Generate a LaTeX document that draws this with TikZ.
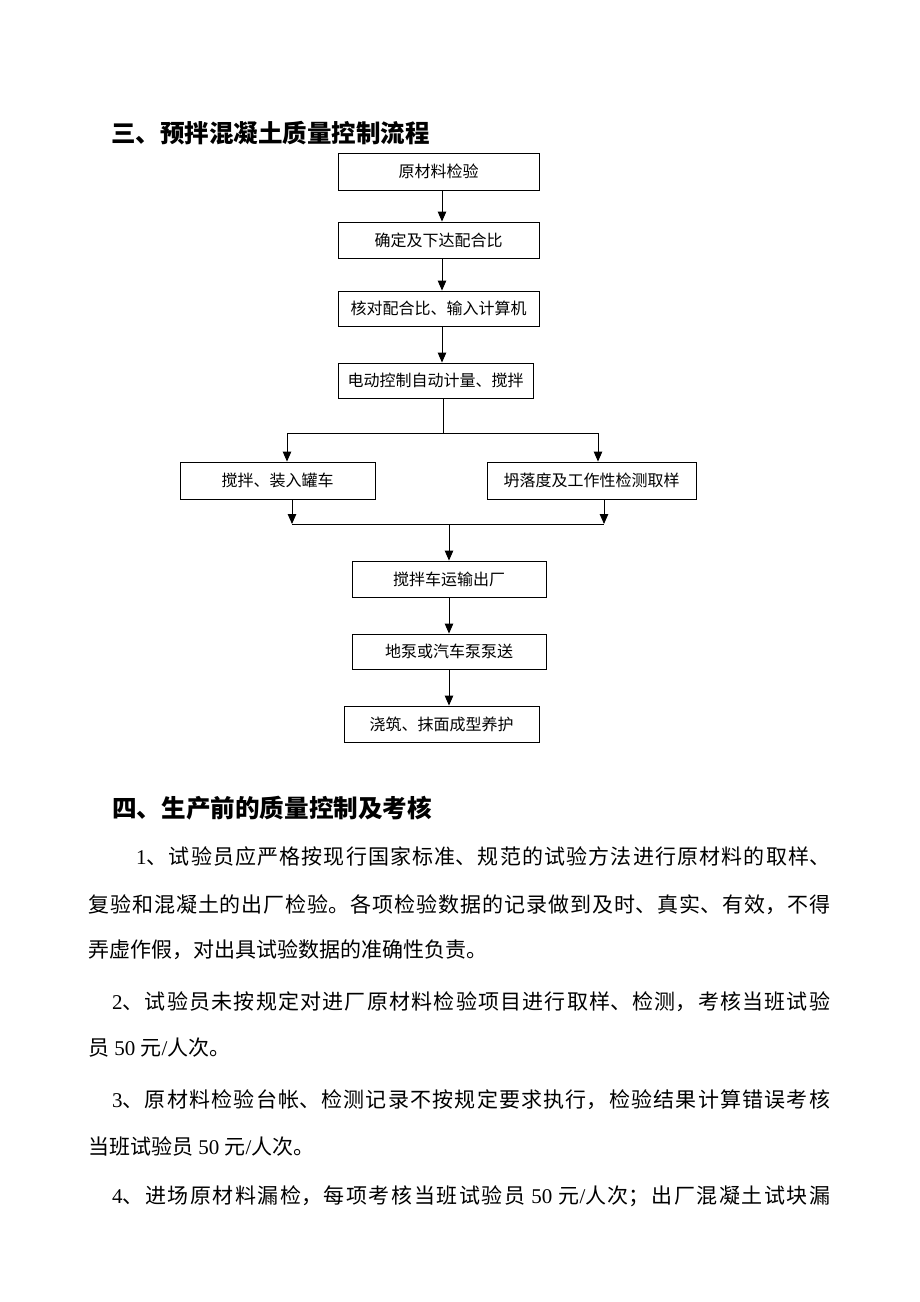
\documentclass[tikz,border=0pt]{standalone}
\usepackage{fontspec}
\setmainfont{Liberation Serif}
\newfontfamily\cjk{Noto Sans CJK SC}
\usetikzlibrary{arrows.meta}
\XeTeXlinebreaklocale "zh"
\XeTeXlinebreakskip=0pt plus 4pt minus 0.3pt
\newcommand\jline[2]{\parbox{#1}{\tolerance=9000\parfillskip=0pt\relax\cjk #2\par}}
\newcommand\dg[1]{{\rmfamily #1}}
\begin{document}
\begin{tikzpicture}[x=1pt,y=-1pt,
  box/.style={draw=black,line width=0.9pt,rectangle,inner sep=0pt,font=\cjk\fontsize{16}{18}\selectfont},
  arr/.style={draw=black,line width=1pt,-{Triangle[length=10pt,width=8.5pt]}},
  ln/.style={draw=black,line width=1pt},
  body/.style={anchor=west,inner sep=0pt,font=\fontsize{21}{24}\selectfont},
  ttl/.style={anchor=west,inner sep=0pt,font=\cjk\bfseries\fontsize{24.5}{28}\selectfont}]
\useasboundingbox[fill=white] (0,0) rectangle (920,1302);

\node[ttl] (t3) at (111,133) {三、预拌混凝土质量控制流程};

\node[box,minimum width=201pt,minimum height=37pt] (b1) at (438.5,171.5) {原材料检验};
\node[box,minimum width=201pt,minimum height=36pt] (b2) at (438.5,240) {确定及下达配合比};
\node[box,minimum width=201pt,minimum height=35pt] (b3) at (438.5,308.5) {核对配合比、输入计算机};
\node[box,minimum width=195pt,minimum height=35pt] (b4) at (435.5,380.5) {电动控制自动计量、搅拌};
\node[box,minimum width=195pt,minimum height=37pt] (b5) at (277.5,480.5) {搅拌、装入罐车};
\node[box,minimum width=209pt,minimum height=37pt] (b6) at (591.5,480.5) {坍落度及工作性检测取样};
\node[box,minimum width=194pt,minimum height=36pt] (b7) at (449,579) {搅拌车运输出厂};
\node[box,minimum width=194pt,minimum height=35pt] (b8) at (449,651.5) {地泵或汽车泵泵送};
\node[box,minimum width=195pt,minimum height=36pt] (b9) at (441.5,724) {浇筑、抹面成型养护};

\coordinate (split) at (443,433);
\coordinate (join) at (449,524);

\draw[arr] ([xshift=3.5pt]b1.south) -- ([xshift=3.5pt]b2.north);
\draw[arr] ([xshift=3.5pt]b2.south) -- ([xshift=3.5pt]b3.north);
\draw[arr] ([xshift=3.5pt]b3.south) -- ([xshift=6.5pt]b4.north);
\draw[ln] ([xshift=7.5pt]b4.south) -- (split);
\draw[arr] (split) -| ([xshift=9.5pt]b5.north);
\draw[arr] (split) -| ([xshift=6.5pt]b6.north);
\draw[arr] ([xshift=14.5pt]b5.south) -- ([xshift=14.5pt]b5.south |- join);
\draw[arr] ([xshift=12.5pt]b6.south) -- ([xshift=12.5pt]b6.south |- join);
\draw[ln] ([xshift=14.5pt]b5.south |- join) -- ([xshift=12.5pt]b6.south |- join);
\draw[arr] (join) -- (b7.north);
\draw[arr] (b7.south) -- (b8.north);
\draw[arr] (b8.south) -- ([xshift=7.5pt]b9.north);

\node[ttl,font=\cjk\bfseries\fontsize{24.6}{28}\selectfont] (t4) at (112,808) {四、生产前的质量控制及考核};

\node[body] (l1) at (136,856) {\jline{694pt}{\dg{1}、试验员应严格按现行国家标准、规范的试验方法进行原材料的取样、}};
\node[body] (l2) at (88,905) {\jline{742pt}{复验和混凝土的出厂检验。各项检验数据的记录做到及时、真实、有效，不得}};
\node[body] (l3) at (88,950) {\cjk 弄虚作假，对出具试验数据的准确性负责。};
\node[body] (l4) at (112,1002) {\jline{718pt}{\dg{2}、试验员未按规定对进厂原材料检验项目进行取样、检测，考核当班试验}};
\node[body] (l5) at (88,1048) {\cjk 员\dg{ 50 }元\dg{/}人次。};
\node[body] (l6) at (112,1100) {\jline{718pt}{\dg{3}、原材料检验台帐、检测记录不按规定要求执行，检验结果计算错误考核}};
\node[body] (l7) at (88,1146) {\cjk 当班试验员\dg{ 50 }元\dg{/}人次。};
\node[body] (l8) at (112,1196) {\jline{718pt}{\dg{4}、进场原材料漏检，每项考核当班试验员\dg{ 50 }元\dg{/}人次；出厂混凝土试块漏}};
\end{tikzpicture}
\end{document}
